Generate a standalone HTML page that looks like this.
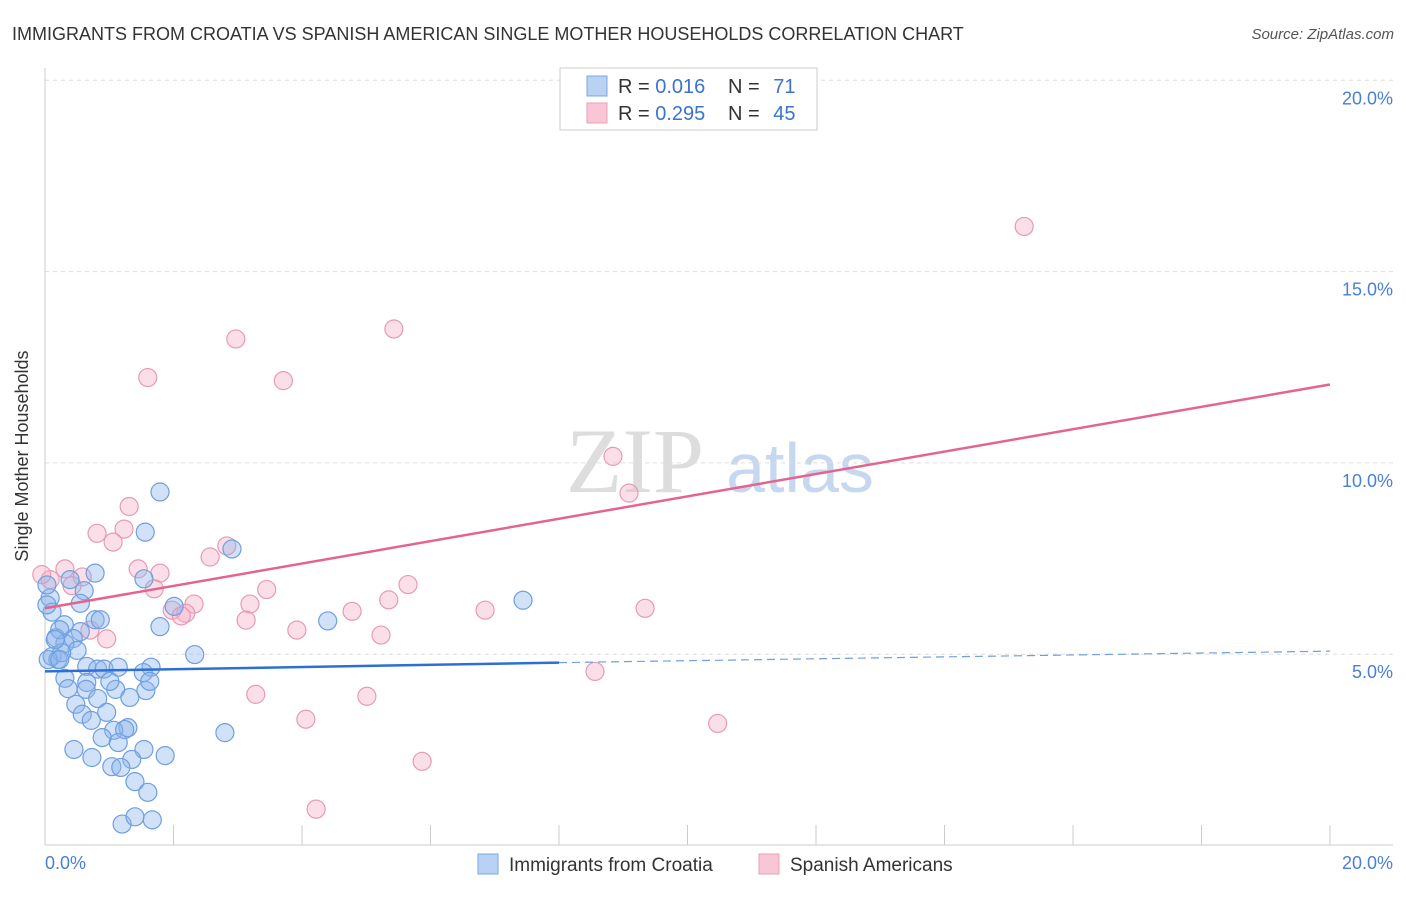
<!DOCTYPE html>
<html><head><meta charset="utf-8"><style>
body{margin:0;background:#fff;font-family:"Liberation Sans",sans-serif;}
</style></head><body>
<svg width="1406" height="892" xmlns="http://www.w3.org/2000/svg" font-family="Liberation Sans, sans-serif">
<text x="12" y="40" font-size="18" fill="#333">IMMIGRANTS FROM CROATIA VS SPANISH AMERICAN SINGLE MOTHER HOUSEHOLDS CORRELATION CHART</text>
<text x="1394" y="39" font-size="15" fill="#555" font-style="italic" text-anchor="end">Source: ZipAtlas.com</text>
<g>
<text x="635" y="492" font-size="92" fill="#ddd" font-family="Liberation Serif, serif" text-anchor="middle">ZIP</text>
<text x="800" y="492" font-size="70" fill="#c5d8f0" text-anchor="middle">atlas</text>
</g>
<g id="grid"></g>
<line x1="45" y1="68" x2="45" y2="845" stroke="#ccc"/>
<line x1="45" y1="845" x2="1393" y2="845" stroke="#ccc"/>
<text x="28" y="456" font-size="18" fill="#333" text-anchor="middle" transform="rotate(-90 28 456)">Single Mother Households</text>
<text x="45" y="869" font-size="18" fill="#4a7fd4">0.0%</text>
<text x="1393" y="869" font-size="18" fill="#4a7fd4" text-anchor="end">20.0%</text>
<g id="pts"></g>
<g id="lines"></g>
<g>
<rect x="560" y="68" width="257" height="62" fill="#fff" stroke="#ccc"/>
<rect x="587" y="76" width="20" height="20" fill="#b9d2f3" stroke="#7aa7e3"/>
<rect x="587" y="103" width="20" height="20" fill="#f8c6d4" stroke="#eaa0b8"/>
<text x="618" y="93" font-size="20" fill="#333">R = <tspan fill="#3a73d0">0.016</tspan></text>
<text x="728" y="93" font-size="20" fill="#333">N = <tspan fill="#3a73d0" dx="8">71</tspan></text>
<text x="618" y="120" font-size="20" fill="#333">R = <tspan fill="#3a73d0">0.295</tspan></text>
<text x="728" y="120" font-size="20" fill="#333">N = <tspan fill="#3a73d0" dx="8">45</tspan></text>
</g>
<g>
<rect x="478" y="854" width="20" height="20" fill="#b9d2f3" stroke="#7aa7e3"/>
<text x="509" y="871" font-size="19" fill="#333">Immigrants from Croatia</text>
<rect x="759" y="854" width="20" height="20" fill="#f8c6d4" stroke="#eaa0b8"/>
<text x="790" y="871" font-size="19" fill="#333">Spanish Americans</text>
</g>
</svg>
<script>
const yTicks=[5,10,15,20];
const yTickLabels=["5.0%","10.0%","15.0%","20.0%"];
const xTicks=[0,2,4,6,8,10,12,14,16,18,20];
const blueX=[1.79,1.56,2.91,0.78,1.54,0.39,0.61,0.08,0.55,2.01,0.11,0.78,4.40,7.44,1.79,0.30,0.55,0.17,0.44,0.31,0.50,0.11,0.20,0.26,2.33,0.65,0.82,0.92,1.14,1.65,1.53,0.31,0.65,0.36,0.64,1.10,1.57,0.82,1.32,0.48,0.58,0.96,0.72,2.80,1.29,1.07,1.24,0.89,1.14,0.45,1.54,0.73,1.35,1.87,1.04,1.18,1.40,1.60,1.20,1.40,1.67,0.03,0.03,0.23,0.16,0.05,0.23,0.86,1.01,1.63];
const blueY=[9.24,8.19,7.75,7.12,6.97,6.95,6.66,6.47,6.33,6.25,6.10,5.90,5.87,6.41,5.72,5.77,5.59,5.43,5.41,5.28,5.10,4.94,4.86,5.04,4.99,4.68,4.61,4.61,4.66,4.66,4.52,4.37,4.26,4.10,4.08,4.08,4.05,3.84,3.87,3.69,3.43,3.48,3.27,2.95,3.08,3.01,3.03,2.82,2.69,2.51,2.51,2.30,2.25,2.35,2.06,2.04,1.67,1.39,0.56,0.75,0.67,6.81,6.29,5.64,5.38,4.86,4.86,5.90,4.29,4.29];
const pinkX=[11.08,15.24,5.43,2.97,3.71,1.60,8.84,9.09,1.31,0.81,1.23,1.06,2.83,2.57,1.45,1.79,0.31,0.58,0.42,5.65,3.45,1.70,5.35,3.19,2.32,1.98,2.19,6.85,9.34,4.78,3.13,2.12,3.92,5.23,0.70,0.96,8.56,3.28,5.01,4.06,10.47,5.87,4.22,0.08,-0.05];
const pinkY=[19.56,16.18,13.50,13.24,12.15,12.23,10.17,9.21,8.86,8.16,8.27,7.93,7.83,7.54,7.23,7.12,7.23,7.02,6.79,6.82,6.69,6.71,6.42,6.31,6.31,6.15,6.07,6.15,6.20,6.12,5.89,6.00,5.63,5.50,5.63,5.40,4.55,3.95,3.90,3.30,3.19,2.20,0.95,6.95,7.08];
const blueLine=[[0,4.55],[8,4.78],[20,5.08]];
const pinkLine=[[0,6.2],[20,12.05]];
const X0=45,X1=1330,YB=845.5,PX5=191.3;
const sx=v=>X0+(v/20)*(X1-X0);
const sy=v=>YB-v/5*PX5;
const NS="http://www.w3.org/2000/svg";
function mk(t,a,p){const e=document.createElementNS(NS,t);for(const k in a)e.setAttribute(k,a[k]);p.appendChild(e);return e;}
const grid=document.getElementById('grid');
yTicks.forEach((v,i)=>{
 const l=mk('line',{x1:45,x2:1393,y1:sy(v),y2:sy(v),stroke:'#ddd','stroke-dasharray':'4,4'},grid);
 
 
 const t=mk('text',{x:1393,y:sy(v)+24,'font-size':18,fill:'#4a7fd4','text-anchor':'end'},grid);
 t.textContent=yTickLabels[i];
 
 
});
xTicks.forEach(v=>{
 const l=mk('line',{x1:sx(v),x2:sx(v),y1:825,y2:845,stroke:'#ccc'},grid);
 
 
});
const pts=document.getElementById('pts');
pinkX.forEach((x,i)=>{
 const c=mk('circle',{cx:sx(x),cy:sy(pinkY[i]),r:9,fill:'rgba(245,175,198,0.4)',stroke:'#e89ab2','stroke-width':1.2},pts);
 
 
});
blueX.forEach((x,i)=>{
 const c=mk('circle',{cx:sx(x),cy:sy(blueY[i]),r:9,fill:'rgba(140,180,235,0.4)',stroke:'#6e9fe0','stroke-width':1.2},pts);
 
 
});
const lines=document.getElementById('lines');
const b1=mk('line',{x1:sx(blueLine[0][0]),y1:sy(blueLine[0][1]),x2:sx(blueLine[1][0]),y2:sy(blueLine[1][1]),stroke:'#2e6fd6','stroke-width':2.5},lines);


const b2=mk('line',{x1:sx(blueLine[1][0]),y1:sy(blueLine[1][1]),x2:sx(blueLine[2][0]),y2:sy(blueLine[2][1]),stroke:'#6e9fe0','stroke-width':1.2,'stroke-dasharray':'8,5'},lines);


const p1=mk('line',{x1:sx(pinkLine[0][0]),y1:sy(pinkLine[0][1]),x2:sx(pinkLine[1][0]),y2:sy(pinkLine[1][1]),stroke:'#e4648f','stroke-width':2.5},lines);


</script>
</body></html>
